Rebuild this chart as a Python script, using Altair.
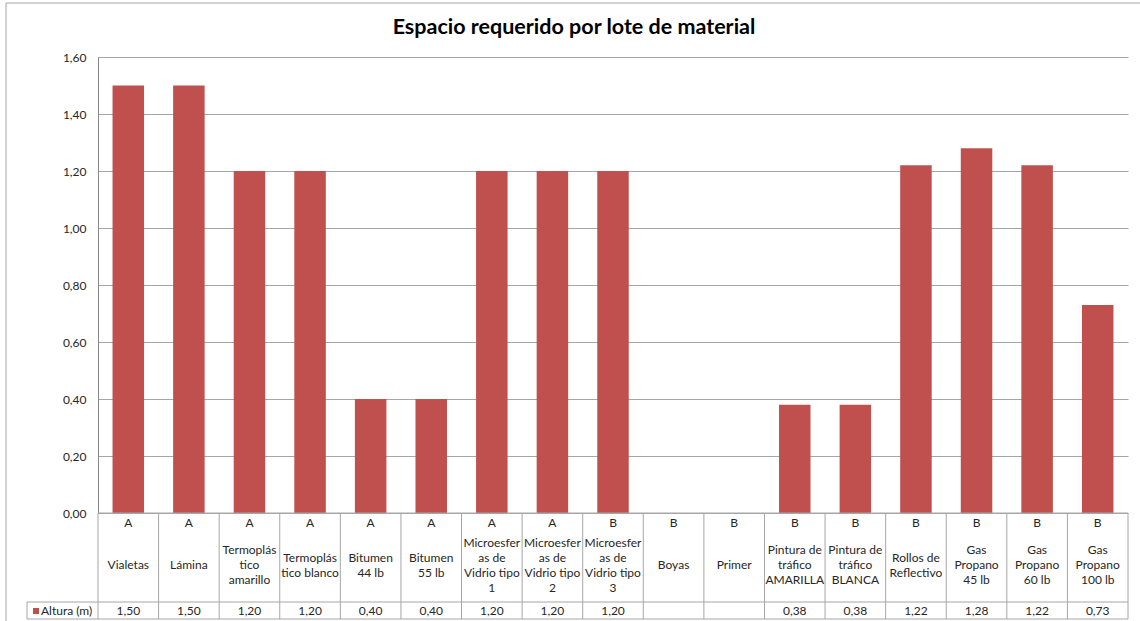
import altair as alt
import pandas as pd

chart_title = "Espacio requerido por lote de material"
series_name = "Altura (m)"

categories = [
    "Vialetas", "Lámina", "Termoplás\ntico\namarillo", "Termoplás\ntico blanco",
    "Bitumen\n44 lb", "Bitumen\n55 lb", "Microesfer\nas de\nVidrio tipo\n1",
    "Microesfer\nas de\nVidrio tipo\n2", "Microesfer\nas de\nVidrio tipo\n3",
    "Boyas", "Primer", "Pintura de\ntráfico\nAMARILLA", "Pintura de\ntráfico\nBLANCA",
    "Rollos de\nReflectivo", "Gas\nPropano\n45 lb", "Gas\nPropano\n60 lb", "Gas\nPropano\n100 lb",
]
groups = ["A", "A", "A", "A", "A", "A", "A", "A", "B", "B", "B", "B", "B", "B", "B", "B", "B"]
values = [1.50, 1.50, 1.20, 1.20, 0.40, 0.40, 1.20, 1.20, 1.20, None, None,
          0.38, 0.38, 1.22, 1.28, 1.22, 0.73]
y_ticks = [0, 0.2, 0.4, 0.6, 0.8, 1.0, 1.2, 1.4, 1.6]

FONT = "Lato"
FS = 12
BAR = "#c0504d"
LINE = "#a6a6a6"
TXT = "#262626"

df = pd.DataFrame({
    "cat": categories,
    "grp": groups,
    "val": values,
    "lbl": ["" if v is None else f"{v:.2f}".replace(".", ",") for v in values],
})

W, H = 1030, 456
LH = 15

xs = alt.Scale(domain=categories, paddingInner=0, paddingOuter=0)
X = alt.X("cat:N", scale=xs, axis=None, sort=categories)

base = alt.Chart(df)

bars = base.mark_bar(color=BAR, width=alt.RelativeBandSize(0.52)).encode(
    x=X,
    y=alt.Y("val:Q", scale=alt.Scale(domain=[0, 1.6], nice=False),
            axis=alt.Axis(values=y_ticks, title=None, grid=True, gridColor=LINE,
                          domainColor="#868686", ticks=False, labelPadding=12,
                          labelFont=FONT, labelFontSize=FS, labelColor=TXT,
                          labelExpr="replace(format(datum.value, '.2f'), '.', ',')")),
)

seps = base.mark_rule(color=LINE).encode(
    x=alt.X("cat:N", scale=xs, axis=None, sort=categories, bandPosition=0),
    y=alt.value(H), y2=alt.value(H + 106),
)

grp_txt = base.mark_text(font=FONT, fontSize=FS, color=TXT, baseline="middle").encode(
    x=X, y=alt.value(H + 10), text="grp:N")

# multi-line category names, vertically centred in their cell
name_txt = base.transform_calculate(
    ny=f"{H + 52} - (length(split(datum.cat, '\\n')) - 1) * {LH / 2}"
).mark_text(font=FONT, fontSize=FS, color=TXT, baseline="middle",
            lineBreak="\n", lineHeight=LH).encode(
    x=X, y=alt.Y("ny:Q", scale=None, axis=None), text="cat:N")

val_txt = base.mark_text(font=FONT, fontSize=FS, color=TXT, baseline="middle").encode(
    x=X, y=alt.value(H + 98), text="lbl:N")

one = alt.Chart(pd.DataFrame({"t": [chart_title], "s": [series_name]}))

frame = alt.layer(
    one.mark_rule(color=LINE).encode(x=alt.value(W), y=alt.value(H), y2=alt.value(H + 106)),
    one.mark_rule(color=LINE).encode(x=alt.value(-71), x2=alt.value(W), y=alt.value(H + 89)),
    one.mark_rule(color=LINE).encode(x=alt.value(-71), x2=alt.value(W), y=alt.value(H + 106)),
    one.mark_rule(color=LINE).encode(x=alt.value(-71), y=alt.value(H + 89), y2=alt.value(H + 106)),
    one.mark_rule(color=LINE).encode(x=alt.value(0), x2=alt.value(W), y=alt.value(H)),
    one.mark_rule(color=LINE).encode(x=alt.value(-92), y=alt.value(-54), y2=alt.value(H + 110)),
    one.mark_rule(color=LINE).encode(x=alt.value(-92), x2=alt.value(W + 20), y=alt.value(-54)),
    one.mark_square(color=BAR, size=36, opacity=1).encode(x=alt.value(-62), y=alt.value(H + 98)),
    one.mark_text(font=FONT, fontSize=FS, color=TXT, align="left", baseline="middle").encode(
        x=alt.value(-57), y=alt.value(H + 98), text="s:N"),
    one.mark_text(font=FONT, fontSize=21.5, fontWeight="bold", color="#000000",
                  align="center", baseline="middle").encode(
        x=alt.value(476), y=alt.value(-29), text="t:N"),
)

chart = alt.layer(bars, seps, grp_txt, name_txt, val_txt, frame).properties(
    width=W, height=H,
    autosize=alt.AutoSizeParams(type="none"),
    padding={"left": 98, "top": 57, "right": 12, "bottom": 108},
    background="white",
).configure_view(strokeWidth=0)

chart.save("out.html", embed_options={"renderer": "svg", "actions": False})
